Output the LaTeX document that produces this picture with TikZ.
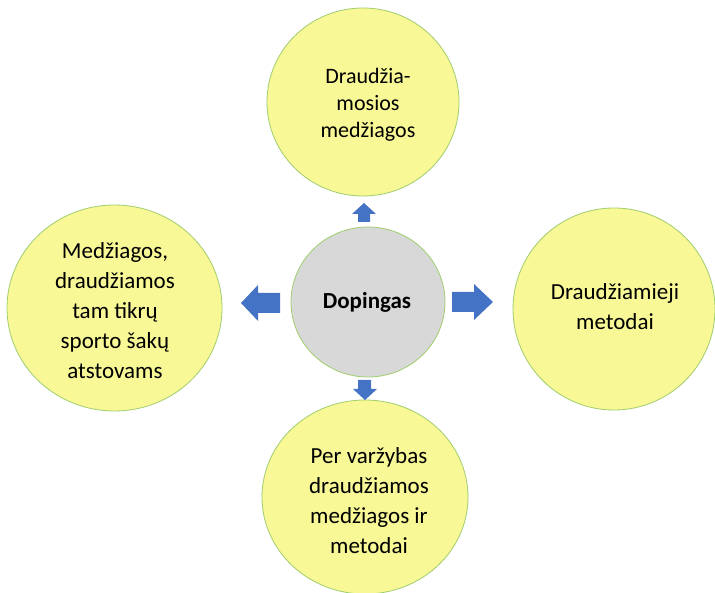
\documentclass[tikz,border=0pt]{standalone}
\usepackage{fontspec}
\setmainfont{Carlito}
\usetikzlibrary{shapes.geometric}
\definecolor{bubblefill}{RGB}{248,248,150}
\definecolor{rim}{RGB}{160,205,110}
\definecolor{hubfill}{RGB}{216,216,216}
\definecolor{arrowblue}{RGB}{68,114,196}
\begin{document}
\begin{tikzpicture}[x=1pt,y=-1pt,
  bubble/.style={ellipse, draw=rim, line width=0.8pt, fill=bubblefill, inner sep=0pt},
  hub/.style={ellipse, draw=rim, line width=0.8pt, fill=hubfill, inner sep=0pt},
  caption/.style={align=center, inner sep=0pt, text=black, font=\fontsize{23}{30}\selectfont},
  blockarrow/.style={fill=arrowblue, draw=none}]
\useasboundingbox (0,0) rectangle (715,593);

% outer bubbles
\node[bubble, minimum width=192, minimum height=188] (top)    at (363,102) {};
\node[bubble, minimum width=215, minimum height=206] (left)   at (114.5,308) {};
\node[bubble, minimum width=202, minimum height=202] (right)  at (614,309) {};
\node[bubble, minimum width=206, minimum height=194] (bottom) at (365,497) {};

% central bubble
\node[hub, minimum width=154, minimum height=150] (centre) at (368,302) {};

% texts
\node[caption, font=\fontsize{22}{27}\selectfont] (toptext) at (368,105) {Draudžia-\\mosios\\medžiagos};
\node[caption] (lefttext) at (115,311) {Medžiagos,\\draudžiamos\\tam tikrų\\sporto šakų\\atstovams};
\node[caption] (righttext) at (615,307) {Draudžiamieji\\metodai};
\node[caption] (bottomtext) at (369,501) {Per varžybas\\draudžiamos\\medžiagos ir\\metodai};
\node[caption, font=\fontsize{23}{30}\selectfont\bfseries] (centretext) at (367,302) {Dopingas};

% block arrows pointing outwards
\fill[blockarrow] (358,222) -- (358,214) -- (352,214) -- (364,203) -- (376,214) -- (370,214) -- (370,222) -- cycle;
\fill[blockarrow] (280,293) -- (258,293) -- (258,285) -- (241,303) -- (258,321) -- (258,313) -- (280,313) -- cycle;
\fill[blockarrow] (452,292) -- (474,292) -- (474,284) -- (493,302) -- (474,320) -- (474,312) -- (452,312) -- cycle;
\fill[blockarrow] (358,380) -- (371,380) -- (371,389) -- (377,389) -- (365,400) -- (353,389) -- (358,389) -- cycle;
\end{tikzpicture}
\end{document}
